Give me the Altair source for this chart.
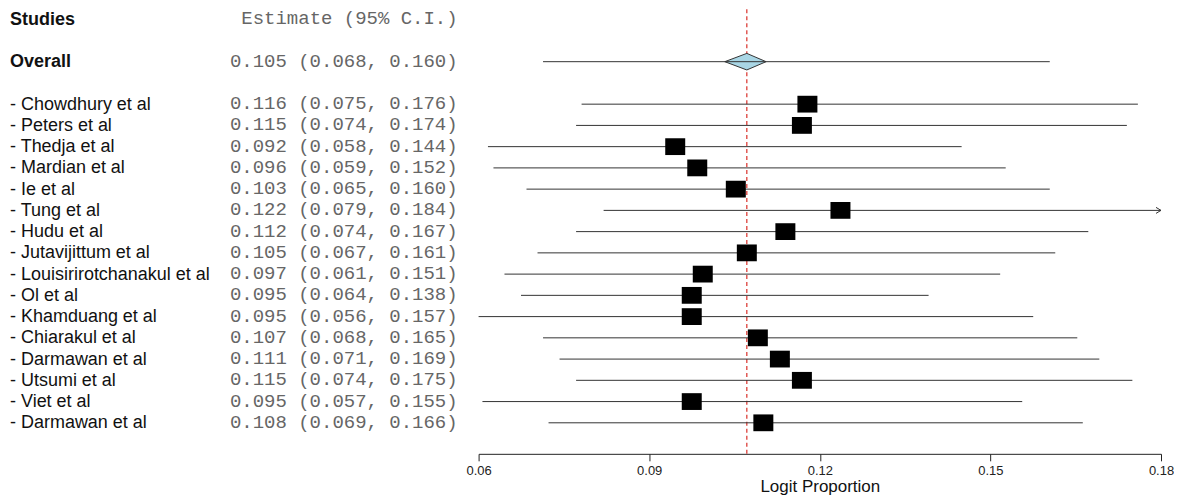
import altair as alt
import pandas as pd

# ---------------- data ----------------
studies = ["Chowdhury et al", "Peters et al", "Thedja et al", "Mardian et al",
           "Ie et al", "Tung et al", "Hudu et al", "Jutavijittum et al",
           "Louisirirotchanakul et al", "Ol et al", "Khamduang et al",
           "Chiarakul et al", "Darmawan et al", "Utsumi et al", "Viet et al",
           "Darmawan et al"]
estimate = [0.116, 0.115, 0.092, 0.096, 0.103, 0.122, 0.112, 0.105,
            0.097, 0.095, 0.095, 0.107, 0.111, 0.115, 0.095, 0.108]
lower = [0.075, 0.074, 0.058, 0.059, 0.065, 0.079, 0.074, 0.067,
         0.061, 0.064, 0.056, 0.068, 0.071, 0.074, 0.057, 0.069]
upper = [0.176, 0.174, 0.144, 0.152, 0.160, 0.184, 0.167, 0.161,
         0.151, 0.138, 0.157, 0.165, 0.169, 0.175, 0.155, 0.166]

overall_est = 0.105
overall_lower = 0.068
overall_upper = 0.160
diamond_lower = 0.101
diamond_upper = 0.1085

axis_ticks = [0.06, 0.09, 0.12, 0.15, 0.18]
header_study = "Studies"
header_est = "Estimate (95% C.I.)"
axis_title = "Logit Proportion"

# ---------------- tables ----------------
HEADER_ROW, OVERALL_ROW, FIRST_STUDY_ROW = 0, 2, 4

def fmt(e, l, u):
    return f"{e:.3f} ({l:.3f}, {u:.3f})"

bold_df = pd.DataFrame({"row": [HEADER_ROW, OVERALL_ROW],
                        "label": [header_study, "Overall"], "col": [0, 0]})
name_df = pd.DataFrame({"row": [FIRST_STUDY_ROW + i for i in range(len(studies))],
                        "label": ["- " + s for s in studies],
                        "col": [0] * len(studies)})
est_df = pd.DataFrame({
    "row": [HEADER_ROW, OVERALL_ROW] + [FIRST_STUDY_ROW + i for i in range(len(studies))],
    "label": [header_est, fmt(overall_est, overall_lower, overall_upper)]
             + [fmt(e, l, u) for e, l, u in zip(estimate, lower, upper)],
    "col": [1] * (len(studies) + 2)})

ci_df = pd.DataFrame({
    "row": [OVERALL_ROW] + [FIRST_STUDY_ROW + i for i in range(len(studies))],
    "est": [overall_est] + estimate,
    "lower": [overall_lower] + lower,
    "upper": [overall_upper] + upper})
box_df = ci_df.iloc[1:].copy()

half_h = 0.39
diamond_df = pd.DataFrame({
    "x": [diamond_lower, overall_est, diamond_upper],
    "y": [OVERALL_ROW, OVERALL_ROW - half_h, OVERALL_ROW],
    "y2": [OVERALL_ROW, OVERALL_ROW + half_h, OVERALL_ROW]})

X_MIN, X_MAX = 0.0563, 0.1802
arrow_df = box_df[box_df["upper"] > X_MAX].copy()
tick_df = pd.DataFrame({"tick": axis_ticks})

# ---------------- scales ----------------
H = 445
yscale = alt.Scale(domain=[-0.47, 20.46], reverse=True, nice=False, zero=False)
colscale = alt.Scale(domain=[0, 1], nice=False, zero=False)

def xs():
    return alt.Scale(domain=[X_MIN, X_MAX], clamp=True, nice=False, zero=False)

Y = alt.Y("row:Q", scale=yscale, axis=None)

# ---------------- left text panel ----------------
bold_txt = alt.Chart(bold_df).mark_text(
    align="left", baseline="middle", font="Liberation Sans", fontSize=18,
    fontWeight="bold", color="#111111", dx=2, dy=0.5
).encode(x=alt.X("col:Q", scale=colscale, axis=None), y=Y, text="label:N")

name_txt = alt.Chart(name_df).mark_text(
    align="left", baseline="middle", font="Liberation Sans", fontSize=18,
    color="#111111", dx=2, dy=0.5
).encode(x=alt.X("col:Q", scale=colscale, axis=None), y=Y, text="label:N")

est_txt = alt.Chart(est_df).mark_text(
    align="right", baseline="middle", font="Liberation Mono", fontSize=19,
    color="#666666", dy=-1
).encode(x=alt.X("col:Q", scale=colscale, axis=None), y=Y, text="label:N")

left = alt.layer(bold_txt, name_txt, est_txt).properties(width=450, height=H)

# ---------------- right forest panel ----------------
ref_line = alt.Chart(pd.DataFrame({"v": [overall_est]})).mark_rule(
    color="#d9302a", stroke="#d9302a", strokeDash=[4, 3], strokeWidth=1.2
).encode(x=alt.X("v:Q", scale=xs(), axis=None))

diamond = alt.Chart(diamond_df).mark_area(
    color="#a9d6e5", stroke="#333333", strokeWidth=1, opacity=1
).encode(x=alt.X("x:Q", scale=xs(), axis=None),
         y=alt.Y("y:Q", scale=yscale, axis=None), y2="y2:Q")

ci = alt.Chart(ci_df).mark_rule(color="#333333", strokeWidth=1).encode(
    x=alt.X("lower:Q", scale=xs(), axis=None), x2="upper:Q", y=Y)

boxes = alt.Chart(box_df).mark_point(
    shape="M-1,-0.84H1V0.84H-1Z", filled=True, color="#000000", opacity=1, size=400
).encode(x=alt.X("est:Q", scale=xs(), axis=None), y=Y)

arrows = alt.Chart(arrow_df).mark_point(
    shape="M-1,-0.6L0,0L-1,0.6", filled=False, color="#333333", opacity=1,
    size=100, strokeWidth=1
).encode(x=alt.X("upper:Q", scale=xs(), axis=None), y=Y)

axis_layer = alt.Chart(tick_df).mark_rule(opacity=0).encode(
    x=alt.X("tick:Q",
            scale=alt.Scale(domain=[axis_ticks[0], axis_ticks[-1]], nice=False, zero=False),
            axis=alt.Axis(values=axis_ticks, format=".2f", title=axis_title,
                          orient="bottom", grid=False, labelFlush=False,
                          tickSize=7, labelPadding=4, titlePadding=1,
                          domainColor="#222222", tickColor="#222222",
                          labelColor="#222222", titleColor="#111111",
                          labelFont="Liberation Sans", labelFontSize=13,
                          titleFont="Liberation Sans", titleFontSize=17,
                          titleFontWeight="normal")))

right = alt.layer(ref_line, diamond, ci, boxes, arrows, axis_layer).resolve_scale(
    x="independent").properties(width=683, height=H)

chart = alt.hconcat(left, right, spacing=21, bounds="flush").properties(
    padding=0).configure_view(stroke=None).configure_axis(
    labelFontSize=13, titleFontSize=17, labelFont="Liberation Sans",
    titleFont="Liberation Sans", titleFontWeight="normal")

chart.save("out.html", embed_options={"renderer": "svg", "actions": False})
